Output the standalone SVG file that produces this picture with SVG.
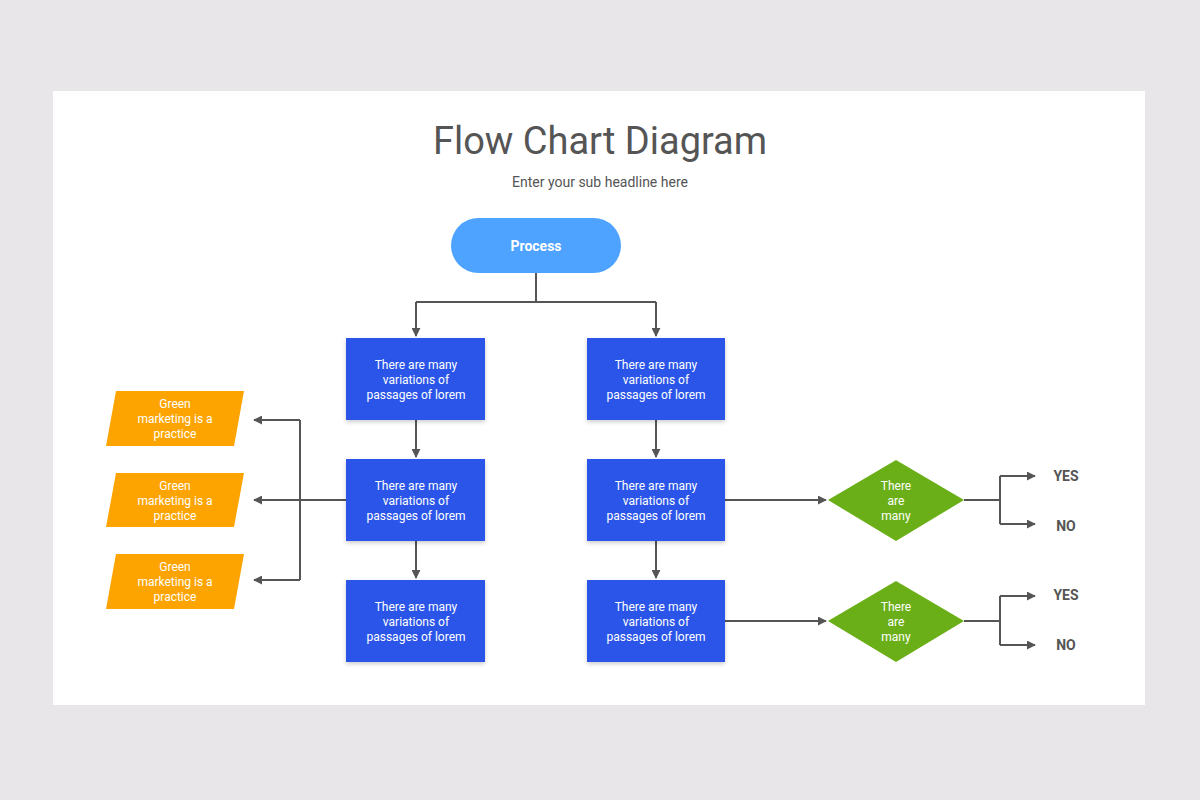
<svg xmlns="http://www.w3.org/2000/svg" width="1200" height="800" viewBox="0 0 1200 800">
<defs>
<marker id="ar" viewBox="0 0 10 10" refX="9" refY="5" markerWidth="9" markerHeight="9" markerUnits="userSpaceOnUse" orient="auto"><path d="M0,0L10,5L0,10z" fill="#555"/></marker>
<filter id="sh" x="-10%" y="-10%" width="120%" height="130%"><feDropShadow dx="0" dy="2" stdDeviation="2" flood-opacity="0.2"/></filter>
</defs>
<style>
text{font-family:Roboto,"Liberation Sans",sans-serif;text-anchor:middle}
.b{fill:#2b55e8;filter:url(#sh)}
.bt{fill:#fff;font-size:12px}
.o{fill:#fda400}
.g{fill:#6aaf18}
.c{fill:none;stroke:#555;stroke-width:2}
.yn{fill:#555;font-size:14px;font-weight:bold}
</style>
<rect width="1200" height="800" fill="#e8e6e8"/>
<rect x="53" y="91" width="1092" height="614" fill="#fff"/>
<text x="600" y="154" font-size="38" fill="#555">Flow Chart Diagram</text>
<text x="600" y="187" font-size="14" fill="#555">Enter your sub headline here</text>
<g id="connectors">
<path class="c" d="M536,273V302M416,302H656M416,302V336M656,302V336" />
<path class="c" d="M416,302V336" marker-end="url(#ar)"/>
<path class="c" d="M656,302V336" marker-end="url(#ar)"/>
<path class="c" d="M416,420V457" marker-end="url(#ar)"/>
<path class="c" d="M416,541V578" marker-end="url(#ar)"/>
<path class="c" d="M656,420V457" marker-end="url(#ar)"/>
<path class="c" d="M656,541V578" marker-end="url(#ar)"/>
<path class="c" d="M346,500H254" marker-end="url(#ar)"/>
<path class="c" d="M300,420V580"/>
<path class="c" d="M300,420H254" marker-end="url(#ar)"/>
<path class="c" d="M300,580H254" marker-end="url(#ar)"/>
<path class="c" d="M725,500H826" marker-end="url(#ar)"/>
<path class="c" d="M725,621H826" marker-end="url(#ar)"/>
<path class="c" d="M964,500H1000M1000,476V524"/>
<path class="c" d="M1000,476H1035" marker-end="url(#ar)"/>
<path class="c" d="M1000,524H1035" marker-end="url(#ar)"/>
<path class="c" d="M964,621H1000M1000,596V645"/>
<path class="c" d="M1000,596H1035" marker-end="url(#ar)"/>
<path class="c" d="M1000,645H1035" marker-end="url(#ar)"/>
</g>
<g id="process"><rect x="451" y="218" width="170" height="55" rx="27.5" fill="#4da3ff"/><text x="536" y="251" font-size="14" font-weight="bold" fill="#fff">Process</text></g>
<g id="b1"><rect class="b" x="346" y="338" width="139" height="82"/><text class="bt" x="416" y="369">There are many</text><text class="bt" x="416" y="384">variations of</text><text class="bt" x="416" y="399">passages of lorem</text></g>
<g id="b2"><rect class="b" x="346" y="459" width="139" height="82"/><text class="bt" x="416" y="490">There are many</text><text class="bt" x="416" y="505">variations of</text><text class="bt" x="416" y="520">passages of lorem</text></g>
<g id="b3"><rect class="b" x="346" y="580" width="139" height="82"/><text class="bt" x="416" y="611">There are many</text><text class="bt" x="416" y="626">variations of</text><text class="bt" x="416" y="641">passages of lorem</text></g>
<g id="b4"><rect class="b" x="587" y="338" width="138" height="82"/><text class="bt" x="656" y="369">There are many</text><text class="bt" x="656" y="384">variations of</text><text class="bt" x="656" y="399">passages of lorem</text></g>
<g id="b5"><rect class="b" x="587" y="459" width="138" height="82"/><text class="bt" x="656" y="490">There are many</text><text class="bt" x="656" y="505">variations of</text><text class="bt" x="656" y="520">passages of lorem</text></g>
<g id="b6"><rect class="b" x="587" y="580" width="138" height="82"/><text class="bt" x="656" y="611">There are many</text><text class="bt" x="656" y="626">variations of</text><text class="bt" x="656" y="641">passages of lorem</text></g>
<g id="p1"><polygon class="o" points="116,391 244,391 234,446 106,446"/><text class="bt" x="175" y="408">Green</text><text class="bt" x="175" y="423">marketing is a</text><text class="bt" x="175" y="438">practice</text></g>
<g id="p2"><polygon class="o" points="116,473 244,473 234,527 106,527"/><text class="bt" x="175" y="490">Green</text><text class="bt" x="175" y="505">marketing is a</text><text class="bt" x="175" y="520">practice</text></g>
<g id="p3"><polygon class="o" points="116,554 244,554 234,609 106,609"/><text class="bt" x="175" y="571">Green</text><text class="bt" x="175" y="586">marketing is a</text><text class="bt" x="175" y="601">practice</text></g>
<g id="d1"><polygon class="g" points="896,460 964,500 896,541 828,500"/><text class="bt" x="896" y="490">There</text><text class="bt" x="896" y="505">are</text><text class="bt" x="896" y="520">many</text></g>
<g id="d2"><polygon class="g" points="896,581 964,621 896,662 828,621"/><text class="bt" x="896" y="611">There</text><text class="bt" x="896" y="626">are</text><text class="bt" x="896" y="641">many</text></g>
<g id="labels"><text class="yn" x="1066" y="481">YES</text><text class="yn" x="1066" y="531">NO</text><text class="yn" x="1066" y="600">YES</text><text class="yn" x="1066" y="650">NO</text></g>
</svg>
